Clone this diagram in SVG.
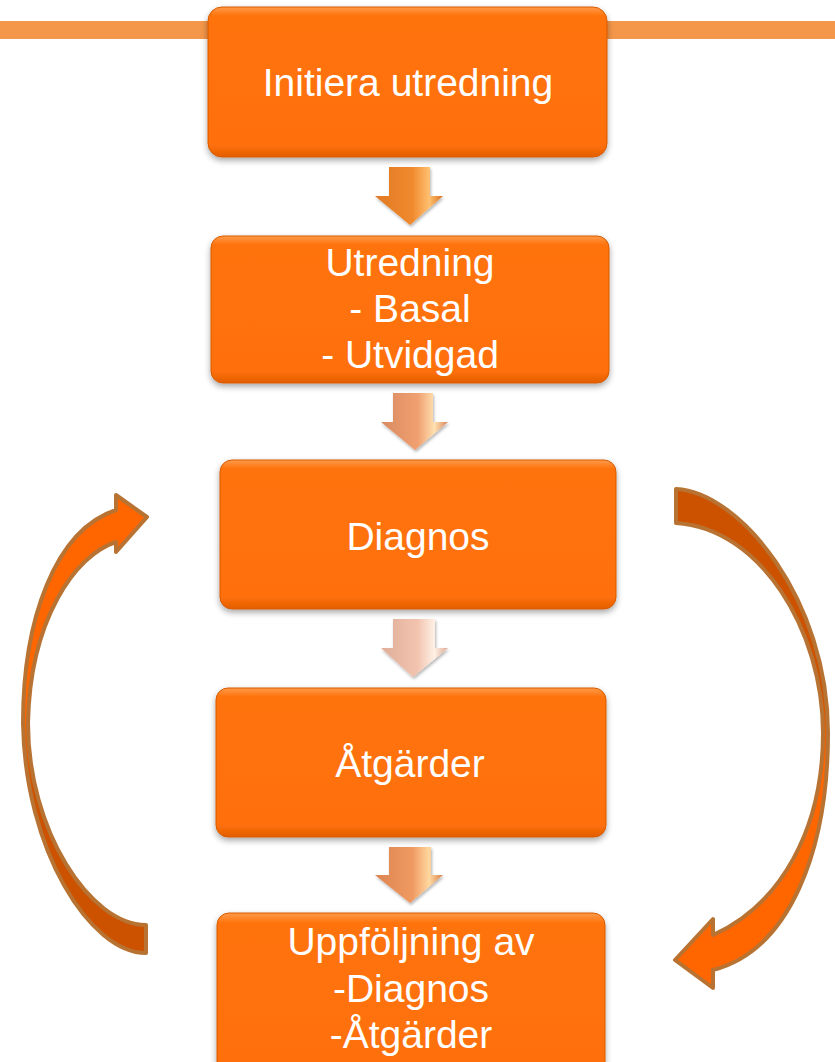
<svg xmlns="http://www.w3.org/2000/svg" width="835" height="1062" viewBox="0 0 835 1062">
<defs>
  <style>
    .box{fill:url(#boxg);stroke:#D65A00;stroke-width:1;filter:url(#sh)}
    .lbl{font-family:"Liberation Sans",Arial,sans-serif;font-size:39px;fill:#FFFFFF;text-anchor:middle}
    .curve{stroke:#B87333;stroke-width:4;stroke-linejoin:round}
  </style>
  <linearGradient id="boxg" x1="0" y1="0" x2="0" y2="1">
    <stop offset="0" stop-color="#FF9A4A"/>
    <stop offset="0.06" stop-color="#FF730C"/>
    <stop offset="0.92" stop-color="#FF700A"/>
    <stop offset="1" stop-color="#E25E00"/>
  </linearGradient>
  <filter id="sh" x="-10%" y="-10%" width="120%" height="130%">
    <feDropShadow dx="0" dy="3" stdDeviation="3" flood-color="#000" flood-opacity="0.35"/>
  </filter>
  <filter id="ash" x="-20%" y="-20%" width="140%" height="150%">
    <feDropShadow dx="1" dy="2" stdDeviation="1.5" flood-color="#000" flood-opacity="0.3"/>
  </filter>
  <linearGradient id="a1" x1="0" y1="0" x2="1" y2="0">
    <stop offset="0" stop-color="#E07A24"/>
    <stop offset="0.55" stop-color="#F0892E"/>
    <stop offset="0.8" stop-color="#FFC070"/>
    <stop offset="1" stop-color="#D8701C"/>
  </linearGradient>
  <linearGradient id="a2" x1="0" y1="0" x2="1" y2="0">
    <stop offset="0" stop-color="#D98A60"/>
    <stop offset="0.55" stop-color="#F0A070"/>
    <stop offset="0.8" stop-color="#FFE0B0"/>
    <stop offset="1" stop-color="#D8855A"/>
  </linearGradient>
  <linearGradient id="a3" x1="0" y1="0" x2="1" y2="0">
    <stop offset="0" stop-color="#E0AD98"/>
    <stop offset="0.55" stop-color="#F2C4B0"/>
    <stop offset="0.8" stop-color="#FFF0E6"/>
    <stop offset="1" stop-color="#DDA890"/>
  </linearGradient>
  <linearGradient id="a4" x1="0" y1="0" x2="1" y2="0">
    <stop offset="0" stop-color="#DC8450"/>
    <stop offset="0.55" stop-color="#F09A62"/>
    <stop offset="0.8" stop-color="#FFD8A0"/>
    <stop offset="1" stop-color="#D8804C"/>
  </linearGradient>
  <linearGradient id="lg" gradientUnits="userSpaceOnUse" x1="0" y1="480" x2="0" y2="1000">
    <stop offset="0" stop-color="#FF6600"/>
    <stop offset="0.45" stop-color="#FF6600"/>
    <stop offset="0.6" stop-color="#CC5200"/>
    <stop offset="1" stop-color="#CC5200"/>
  </linearGradient>
  <linearGradient id="rg" gradientUnits="userSpaceOnUse" x1="0" y1="480" x2="0" y2="1000">
    <stop offset="0" stop-color="#CC5200"/>
    <stop offset="0.4" stop-color="#CC5200"/>
    <stop offset="0.55" stop-color="#FF6600"/>
    <stop offset="1" stop-color="#FF6600"/>
  </linearGradient>
</defs>
<rect x="0" y="0" width="835" height="1062" fill="#FFFFFF"/>
<rect x="0" y="21" width="835" height="18" fill="#F4974A"/>

<g id="connectors">
  <path d="M389,167 H430 V196 H443 L410,225 L375,196 H389 Z" fill="url(#a1)" filter="url(#ash)"/>
  <path d="M393,393 H433 V422 H448 L415,450 L381,422 H393 Z" fill="url(#a2)" filter="url(#ash)"/>
  <path d="M393,619 H435 V648 H448 L413,677 L381,648 H393 Z" fill="url(#a3)" filter="url(#ash)"/>
  <path d="M389,847 H431 V875 H443 L410,903 L375,875 H389 Z" fill="url(#a4)" filter="url(#ash)"/>
  <path class="curve" fill="url(#lg)" d="M146,953 C90,953 25,850 23,723 C23,620 55,530 116,510 L116,495 L147,517 L116,552 L116,542 C75,555 30,620 28,723 C28,830 90,925 146,925 Z"/>
  <path class="curve" fill="url(#rg)" d="M676,489 C740,492 828,600 828,733 C828,850 790,950 713,970 L713,988 L675,960 L713,919 L713,935 C780,905 823,830 823,733 C823,630 760,528 676,523 Z"/>
</g>

<g id="n1">
  <rect class="box" x="208" y="7" width="399" height="150" rx="14"/>
  <text class="lbl" x="408" y="96">Initiera utredning</text>
</g>
<g id="n2">
  <rect class="box" x="211" y="236" width="398" height="147" rx="12"/>
  <text class="lbl" x="410" y="276">Utredning</text>
  <text class="lbl" x="410" y="322">- Basal</text>
  <text class="lbl" x="410" y="368">- Utvidgad</text>
</g>
<g id="n3">
  <rect class="box" x="220" y="460" width="396" height="149" rx="12"/>
  <text class="lbl" x="418" y="550">Diagnos</text>
</g>
<g id="n4">
  <rect class="box" x="216" y="688" width="390" height="149" rx="12"/>
  <text class="lbl" x="410" y="777">Åtgärder</text>
</g>
<g id="n5">
  <rect class="box" x="217" y="913" width="388" height="170" rx="12"/>
  <text class="lbl" x="411" y="955">Uppföljning av</text>
  <text class="lbl" x="411" y="1002">-Diagnos</text>
  <text class="lbl" x="411" y="1048">-Åtgärder</text>
</g>
</svg>
